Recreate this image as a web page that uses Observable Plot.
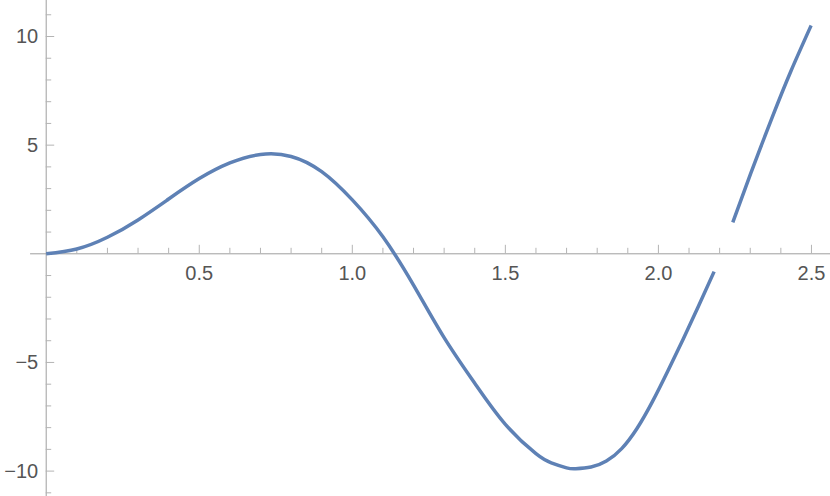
<!DOCTYPE html>
<html>
<head>
<meta charset="utf-8">
<script src="https://cdn.jsdelivr.net/npm/d3@7"></script>
<script src="https://cdn.jsdelivr.net/npm/@observablehq/plot@0.6"></script>
<style>
  html, body { margin: 0; padding: 0; background: #fff; }
  #chart { width: 830px; height: 496px; }
</style>
</head>
<body>
<div id="chart"></div>
<script>
// Curve, first piece (before the break)
const seg1X = [0, 0.1, 0.2, 0.3, 0.4, 0.5, 0.6, 0.7, 0.8, 0.9, 1.0, 1.1, 1.2, 1.3, 1.4, 1.5, 1.6, 1.65, 1.7, 1.73, 1.78, 1.83, 1.88, 1.93, 1.98, 2.03, 2.08, 2.13, 2.182];
const seg1Y = [0, 0.22, 0.76, 1.56, 2.52, 3.46, 4.18, 4.57, 4.48, 3.78, 2.48, 0.78, -1.44, -3.86, -5.96, -7.85, -9.2, -9.62, -9.85, -9.89, -9.815, -9.54, -8.965, -8.04, -6.815, -5.415, -3.95, -2.44, -0.82];
// Curve, second piece (after the break)
const seg2X = [2.243, 2.301, 2.372, 2.432, 2.499];
const seg2Y = [1.45, 3.68, 6.29, 8.38, 10.51];

// Tick values and labels
const xMajor = [0.5, 1.0, 1.5, 2.0, 2.5];
const xLabels = ["0.5", "1.0", "1.5", "2.0", "2.5"];
const xMinor = [0.1, 0.2, 0.3, 0.4, 0.6, 0.7, 0.8, 0.9, 1.1, 1.2, 1.3, 1.4, 1.6, 1.7, 1.8, 1.9, 2.1, 2.2, 2.3, 2.4];
const yMajor = [10, 5, -5, -10];
const yLabels = ["10", "5", "\u22125", "\u221210"];
const yMinor = [11, 9, 8, 7, 6, 4, 3, 2, 1, -1, -2, -3, -4, -6, -7, -8, -9, -11];

const curve = [
  ...seg1X.map((x, i) => ({x, y: seg1Y[i], piece: "a"})),
  ...seg2X.map((x, i) => ({x, y: seg2Y[i], piece: "b"}))
];
const xT = xMajor.map((v, i) => ({v, label: xLabels[i]}));
const yT = yMajor.map((v, i) => ({v, label: yLabels[i]}));

const W = 830, H = 496;
const xDom = [-0.1493, 2.5622];
const yDom = [-11.169, 11.657];
const pxX = (xDom[1] - xDom[0]) / W; // data units per pixel (x)
const pxY = (yDom[1] - yDom[0]) / H; // data units per pixel (y)

const axisColor = "#9e9e9e";
const tickColor = "#b4b4b4";
const font = "'Liberation Sans', Arial, Helvetica, sans-serif";

const chart = Plot.plot({
  width: W,
  height: H,
  margin: 0,
  x: {domain: xDom, axis: null},
  y: {domain: yDom, axis: null},
  style: {fontFamily: font, background: "#fff"},
  marks: [
    // axes lines
    Plot.ruleY([0], {x1: -0.051, x2: xDom[1], stroke: axisColor, strokeWidth: 1}),
    Plot.ruleX([0], {y1: yDom[0], y2: yDom[1], stroke: axisColor, strokeWidth: 1}),
    // x ticks (pointing up)
    Plot.ruleX(xMajor, {x: d => d, y1: 0, y2: 8.5 * pxY, stroke: tickColor, strokeWidth: 1}),
    Plot.ruleX(xMinor, {x: d => d, y1: 0, y2: 5.5 * pxY, stroke: tickColor, strokeWidth: 1}),
    // y ticks (pointing right)
    Plot.ruleY(yMajor, {y: d => d, x1: 0, x2: 8.5 * pxX, stroke: tickColor, strokeWidth: 1}),
    Plot.ruleY(yMinor, {y: d => d, x1: 0, x2: 5.5 * pxX, stroke: tickColor, strokeWidth: 1}),
    // tick labels
    Plot.text(xT, {x: "v", y: 0, text: "label", dy: 20, fontSize: 20, fill: "#555555", textAnchor: "middle"}),
    Plot.text(yT, {x: 0, y: "v", text: "label", dx: -8, fontSize: 20, fill: "#555555", textAnchor: "end"}),
    // curve
    Plot.line(curve, {x: "x", y: "y", z: "piece", stroke: "#5E81B5", strokeWidth: 3.5, curve: "natural", strokeLinecap: "butt"})
  ]
});
document.getElementById("chart").appendChild(chart);
</script>
</body>
</html>
